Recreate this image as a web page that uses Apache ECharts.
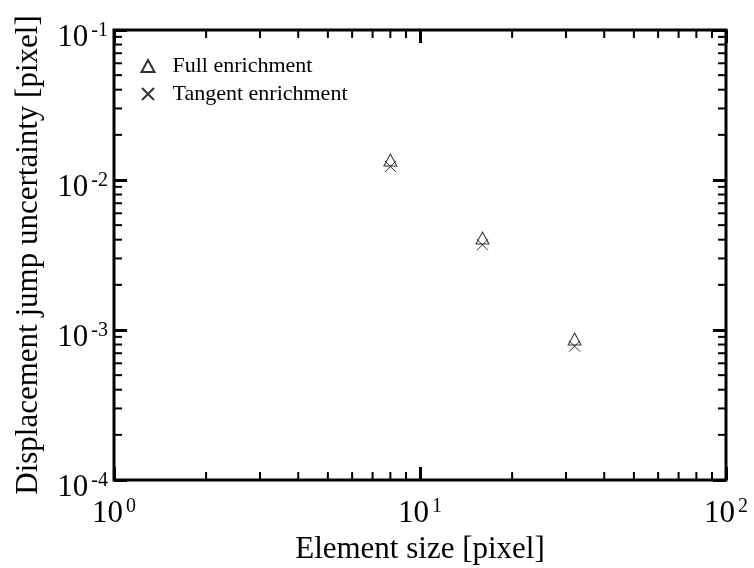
<!DOCTYPE html>
<html>
<head>
<meta charset="utf-8">
<script src="https://cdn.jsdelivr.net/npm/echarts@6/dist/echarts.min.js"></script>
<style>html,body{margin:0;padding:0;background:#fff;}#main{width:754px;height:568px;}</style>
</head>
<body>
<div id="main"></div>
<script>
// ---- data ----
const xExponents = [0, 1, 2];
const yExponents = [-4, -3, -2, -1];
const elementSize = [8, 16, 32];
const fullEnrichment = [0.0136, 0.0041, 0.00087];
const tangentEnrichment = [0.0123, 0.0037, 0.00078];
const seriesNames = ['Full enrichment', 'Tangent enrichment'];
const xTitle = 'Element size [pixel]';
const yTitle = 'Displacement jump uncertainty [pixel]';

const FONT = '"Liberation Serif", "DejaVu Serif", serif';
const xMin = Math.pow(10, xExponents[0]), xMax = Math.pow(10, xExponents[xExponents.length - 1]);
const yMin = Math.pow(10, yExponents[0]), yMax = Math.pow(10, yExponents[yExponents.length - 1]);

function minorValues(exps) {
  const out = [];
  for (let i = 0; i < exps.length - 1; i++) {
    for (let m = 2; m <= 9; m++) out.push(m * Math.pow(10, exps[i]));
  }
  return out;
}
const xMinor = minorValues(xExponents);
const yMinor = minorValues(yExponents);

function expLabel(v) {
  const e = Math.round(Math.log10(v));
  return '{b|10}{s|' + e + '}';
}
const rich = {
  b: { fontFamily: FONT, fontSize: 31, color: '#000', lineHeight: 32, verticalAlign: 'bottom', padding: [8, 0, 0, 0] },
  s: { fontFamily: FONT, fontSize: 20, color: '#000', lineHeight: 20, verticalAlign: 'top', padding: [0, 0, 0, 3] }
};

const chart = echarts.init(document.getElementById('main'), null, { renderer: 'canvas' });
const crossPath = 'path://M0,0L10,10M10,0L0,10';
const tickMajor = { show: true, inside: true, length: 13, lineStyle: { color: '#000', width: 3 } };

const option = {
  backgroundColor: '#fff',
  animation: false,
  grid: { left: 114, right: 28, top: 30, bottom: 88, containLabel: false, outerBoundsMode: 'none',
    show: true, borderColor: '#000', borderWidth: 3, backgroundColor: 'transparent' },
  legend: {
    orient: 'vertical', left: 134, top: 50, itemGap: 6, itemWidth: 13, itemHeight: 12,
    textStyle: { fontFamily: FONT, fontSize: 22, color: '#000', padding: [0, 0, 0, 13] },
    data: [
      { name: seriesNames[0], icon: 'triangle' },
      { name: seriesNames[1], icon: crossPath }
    ]
  },
  xAxis: [{
    type: 'log', logBase: 10, min: xMin, max: xMax, position: 'bottom',
    name: xTitle, nameLocation: 'middle', nameGap: 54,
    nameTextStyle: { fontFamily: FONT, fontSize: 31, color: '#000' },
    axisLine: { show: false }, axisTick: tickMajor, splitLine: { show: false },
    axisLabel: { formatter: expLabel, rich: rich, margin: 17 }
  }, {
    type: 'log', logBase: 10, min: xMin, max: xMax, position: 'top',
    axisLine: { show: false }, axisTick: tickMajor,
    splitLine: { show: false }, axisLabel: { show: false }
  }],
  yAxis: [{
    type: 'log', logBase: 10, min: yMin, max: yMax, position: 'left',
    name: yTitle, nameLocation: 'middle', nameGap: 70, nameRotate: 90,
    nameTextStyle: { fontFamily: FONT, fontSize: 31, color: '#000' },
    axisLine: { show: false }, axisTick: tickMajor, splitLine: { show: false },
    axisLabel: { formatter: expLabel, rich: rich, margin: 6, padding: [14, 0, 0, 0] }
  }, {
    type: 'log', logBase: 10, min: yMin, max: yMax, position: 'right',
    axisLine: { show: false }, axisTick: tickMajor,
    splitLine: { show: false }, axisLabel: { show: false }
  }],
  series: [
    {
      name: seriesNames[0], type: 'scatter', symbol: 'triangle', symbolSize: [13, 12],
      itemStyle: { color: 'none', borderColor: '#000', borderWidth: 1 },
      data: elementSize.map((x, i) => [x, fullEnrichment[i]]), z: 5
    },
    {
      name: seriesNames[1], type: 'scatter', symbol: crossPath, symbolSize: 11,
      itemStyle: { color: 'none', borderColor: '#000', borderWidth: 1 },
      data: elementSize.map((x, i) => [x, tangentEnrichment[i]]), z: 5
    },
    {
      type: 'custom', silent: true, z: 4,
      data: xMinor.map(v => [v, yMin]),
      renderItem: function (params, api) {
        const cs = params.coordSys;
        const p = api.coord([api.value(0), yMin]);
        const st = { stroke: '#000', lineWidth: 2 };
        return { type: 'group', children: [
          { type: 'line', shape: { x1: p[0], y1: cs.y + cs.height, x2: p[0], y2: cs.y + cs.height - 8 }, style: st },
          { type: 'line', shape: { x1: p[0], y1: cs.y, x2: p[0], y2: cs.y + 8 }, style: st }
        ]};
      }
    },
    {
      type: 'custom', silent: true, z: 4,
      data: yMinor.map(v => [xMin, v]),
      renderItem: function (params, api) {
        const cs = params.coordSys;
        const p = api.coord([xMin, api.value(1)]);
        const st = { stroke: '#000', lineWidth: 2 };
        return { type: 'group', children: [
          { type: 'line', shape: { x1: cs.x, y1: p[1], x2: cs.x + 8, y2: p[1] }, style: st },
          { type: 'line', shape: { x1: cs.x + cs.width, y1: p[1], x2: cs.x + cs.width - 8, y2: p[1] }, style: st }
        ]};
      }
    }
  ]
};
chart.setOption(option);
</script>
</body>
</html>
